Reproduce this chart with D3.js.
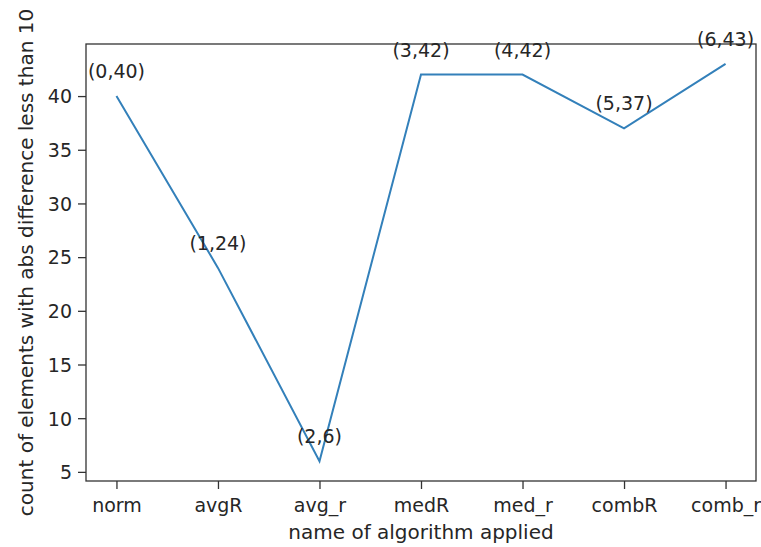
<!DOCTYPE html>
<html>
<head>
<meta charset="utf-8">
<script src="https://cdn.jsdelivr.net/npm/d3@7"></script>
<style>
  body { margin: 0; background: #fff; }
  text { font-family: "DejaVu Sans", sans-serif; fill: #262626; }
</style>
</head>
<body>
<div id="chart"></div>
<script>
var categories = ["norm", "avgR", "avg_r", "medR", "med_r", "combR", "comb_r"];
var counts = [40, 24, 6, 42, 42, 37, 43];
var yTicks = [5, 10, 15, 20, 25, 30, 35, 40];

var margin = {top: 44, right: 5, bottom: 66, left: 86},
    width = 761 - margin.left - margin.right,
    height = 547 - margin.top - margin.bottom,
    fontSize = 19,
    labelSize = 20;

var data = counts.map(function(v, i) { return {i: i, name: categories[i], value: v}; });

var svg = d3.select("#chart")
  .append("svg")
  .attr("width", 761)
  .attr("height", 547)
  .append("g")
  .attr("transform", `translate(${margin.left},${margin.top})`);

// matplotlib style 5% margins
var n = categories.length - 1;
var x = d3.scaleLinear()
  .domain([-0.05 * n, n + 0.05 * n])
  .range([0, width]);

var ymin = d3.min(counts), ymax = d3.max(counts), pad = (ymax - ymin) * 0.05;
var y = d3.scaleLinear()
  .domain([ymin - pad, ymax + pad])
  .range([height, 0]);

var xAxis = svg.append("g")
  .attr("transform", `translate(0,${height})`)
  .call(d3.axisBottom(x)
    .tickValues(d3.range(categories.length))
    .tickFormat(function(d) { return categories[d]; })
    .tickSize(8).tickPadding(9));

var yAxis = svg.append("g")
  .call(d3.axisLeft(y).tickValues(yTicks).tickSize(8).tickPadding(6));

[xAxis, yAxis].forEach(function(a) {
  a.select(".domain").remove();
  a.selectAll(".tick line").attr("stroke", "#333").attr("stroke-width", 1.3);
  a.selectAll(".tick text").style("font-size", fontSize + "px").attr("fill", "#262626");
});
xAxis.selectAll(".tick text").attr("dy", "0.75em");
yAxis.selectAll(".tick text").attr("dy", "0.36em");

// frame
svg.append("rect")
  .attr("width", width)
  .attr("height", height)
  .attr("fill", "none")
  .attr("stroke", "#333")
  .attr("stroke-width", 1.3);

svg.append("path")
  .datum(data)
  .attr("fill", "none")
  .attr("stroke", "#3380ba")
  .attr("stroke-width", 2)
  .attr("d", d3.line()
    .x(function(d) { return x(d.i); })
    .y(function(d) { return y(d.value); }));

svg.selectAll("text.annot")
  .data(data)
  .enter()
  .append("text")
  .attr("class", "annot")
  .attr("x", function(d) { return x(d.i); })
  .attr("y", function(d) { return y(d.value) - 18; })
  .attr("text-anchor", "middle")
  .style("font-size", fontSize + "px")
  .text(function(d) { return "(" + d.i + "," + d.value + ")"; });

svg.append("text")
  .attr("text-anchor", "middle")
  .attr("x", width / 2)
  .attr("y", height + 58)
  .style("font-size", labelSize + "px")
  .text("name of algorithm applied");

svg.append("text")
  .attr("text-anchor", "middle")
  .attr("transform", "rotate(-90)")
  .attr("x", -height / 2)
  .attr("y", -53)
  .style("font-size", labelSize + "px")
  .text("count of elements with abs difference less than 10");
</script>
</body>
</html>
